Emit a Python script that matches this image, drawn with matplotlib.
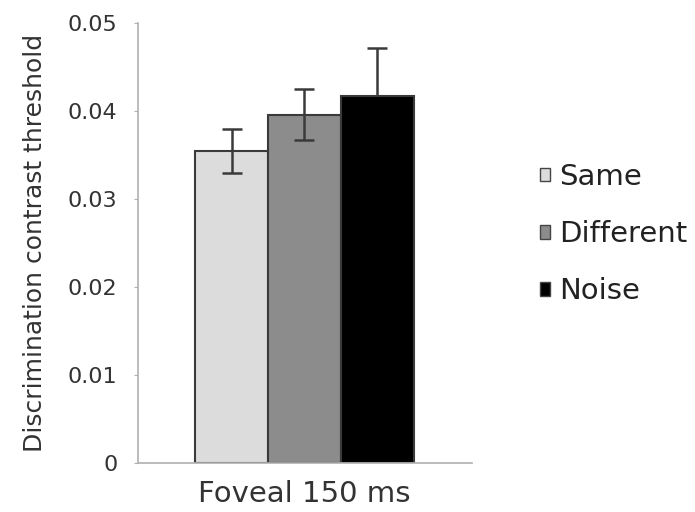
import matplotlib.pyplot as plt

conditions = ["Same", "Different", "Noise"]
thresholds = [0.0355, 0.0396, 0.0417]
errors = [0.0025, 0.0029, 0.0055]
group_label = "Foveal 150 ms"
colors = ["#dcdcdc", "#8c8c8c", "#000000"]

plt.rcParams['font.family'] = ['DejaVu Sans']

fig = plt.figure(figsize=(6.95, 5.12), dpi=100)
ax = fig.add_axes([0.199, 0.096, 0.48, 0.859])

for i in range(len(conditions)):
    ax.bar(i, thresholds[i], width=1.0, color=colors[i], edgecolor="#3a3a3a",
           linewidth=1.5, label=conditions[i], zorder=2)
    # the black bar hides the lower half of its error bar, as in the source
    ez = 1 if colors[i] == "#000000" else 3
    ax.errorbar(i, thresholds[i], yerr=errors[i], fmt="none", ecolor="#3a3a3a",
                elinewidth=1.8, capsize=7, capthick=1.8, zorder=ez)

ax.set_xlim(-1.28, 3.3)
ax.set_ylim(0, 0.05)
ax.set_yticks([0, 0.01, 0.02, 0.03, 0.04, 0.05])
ax.set_yticklabels(["0", "0.01", "0.02", "0.03", "0.04", "0.05"])
ax.set_xticks([1])
ax.set_xticklabels([group_label])

for s in ["top", "right"]:
    ax.spines[s].set_visible(False)
for s in ["left", "bottom"]:
    ax.spines[s].set_color("#b0b0b0")
    ax.spines[s].set_linewidth(1.2)

ax.tick_params(axis="y", colors="#b0b0b0", labelcolor="#333333", labelsize=16,
               length=3, pad=12)
ax.tick_params(axis="x", length=0, labelsize=21, labelcolor="#333333", pad=12)
ax.set_ylabel("Discrimination contrast threshold", fontsize=18, color="#333333",
              labelpad=15)

leg = ax.legend(loc="center left", bbox_to_anchor=(1.16, 0.52), frameon=False,
                fontsize=21, handlelength=0.35, handleheight=0.35, handletextpad=0.3,
                labelspacing=1.0, labelcolor="#222222", borderpad=0)
for h in leg.legend_handles:
    h.set_edgecolor("#444444")
    h.set_linewidth(1)

fig.savefig("out.png", dpi=100)
